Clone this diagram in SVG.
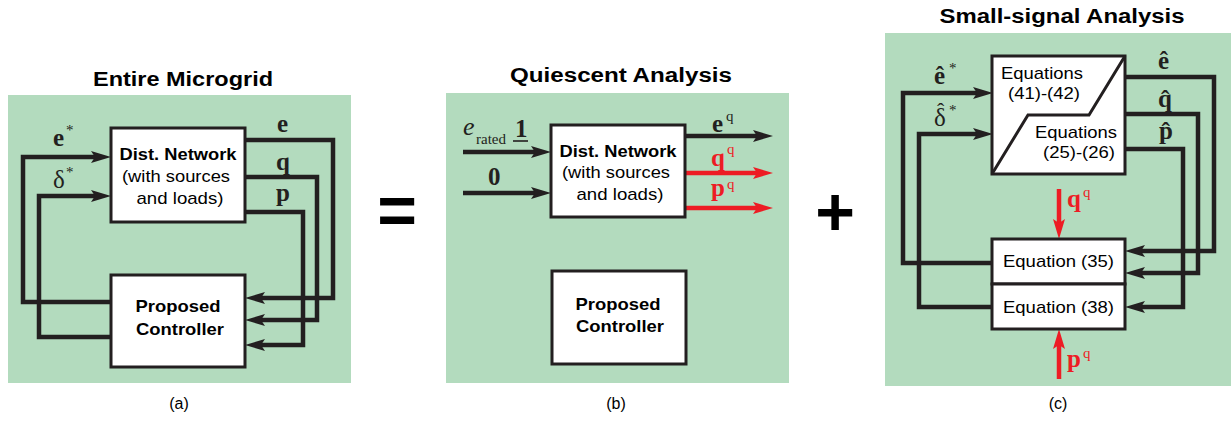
<svg xmlns="http://www.w3.org/2000/svg" width="1231" height="422" viewBox="0 0 1231 422">
<style>
.panel{fill:#b3dbbe}
.box{fill:#fff;stroke:#231f20;stroke-width:3}
.ln{fill:none;stroke:#231f20;stroke-width:4.5;stroke-linejoin:miter;stroke-linecap:butt}
.lr{fill:none;stroke:#ed1c24;stroke-width:4.5;stroke-linecap:butt}
.title{font-family:"Liberation Sans",Arial,sans-serif;font-weight:bold;font-size:20px;fill:#000;text-anchor:middle}
.lb{font-family:"Liberation Sans",Arial,sans-serif;font-weight:bold;font-size:17px;fill:#000;text-anchor:middle}
.lt{font-family:"Liberation Sans",Arial,sans-serif;font-size:17px;fill:#000;text-anchor:middle}
.eq{font-family:"Liberation Sans",Arial,sans-serif;font-size:17px;fill:#000}
.cap{font-family:"Liberation Sans",Arial,sans-serif;font-size:16px;fill:#000;text-anchor:middle}
.big{font-family:"Liberation Sans",Arial,sans-serif;font-weight:bold;font-size:68px;fill:#000;text-anchor:middle}
.mb{font-family:"Liberation Serif","Times New Roman",serif;font-weight:bold;font-size:25px;fill:#231f20}
.mr{font-family:"Liberation Serif","Times New Roman",serif;font-size:25px;fill:#231f20}
.mi{font-family:"Liberation Serif","Times New Roman",serif;font-style:italic;font-size:26px;fill:#231f20}
.sub{font-family:"Liberation Serif","Times New Roman",serif;font-size:15px;fill:#231f20}
.hatt{font-size:22px}
.red{fill:#ed1c24}
</style>
<defs>
<marker id="ah" markerUnits="userSpaceOnUse" markerWidth="20" markerHeight="12" viewBox="0 0 20 12" refX="4" refY="6" orient="auto">
<path d="M0,0 L20,6 L0,12 L4,6 Z" fill="#231f20"/>
</marker>
<marker id="ahr" markerUnits="userSpaceOnUse" markerWidth="20" markerHeight="12" viewBox="0 0 20 12" refX="4" refY="6" orient="auto">
<path d="M0,0 L20,6 L0,12 L4,6 Z" fill="#ed1c24"/>
</marker>
</defs>

<!-- Panel backgrounds -->
<rect class="panel" x="8" y="95" width="343" height="288"/>
<rect class="panel" x="446" y="93" width="343" height="290"/>
<rect class="panel" x="885" y="33" width="346" height="353"/>

<!-- Titles -->
<text class="title" x="183" y="86" textLength="180" lengthAdjust="spacingAndGlyphs">Entire Microgrid</text>
<text class="title" x="621" y="82" textLength="222" lengthAdjust="spacingAndGlyphs">Quiescent Analysis</text>
<text class="title" x="1062" y="23" textLength="245" lengthAdjust="spacingAndGlyphs">Small-signal Analysis</text>

<!-- Connectors -->
<g id="connectors">
<!-- (a) -->
<path class="ln" d="M245,140 H333 V298 H261" marker-end="url(#ah)"/>
<path class="ln" d="M245,177 H317 V320 H261" marker-end="url(#ah)"/>
<path class="ln" d="M245,212 H303 V345 H261" marker-end="url(#ah)"/>
<path class="ln" d="M111,302 H23 V157 H95" marker-end="url(#ah)"/>
<path class="ln" d="M111,337 H39 V196 H95" marker-end="url(#ah)"/>
<!-- (b) -->
<path class="ln" d="M463,152 H535" marker-end="url(#ah)"/>
<path class="ln" d="M463,193 H535" marker-end="url(#ah)"/>
<path class="ln" d="M685,136 H757" marker-end="url(#ah)"/>
<path class="lr" d="M685,173 H757" marker-end="url(#ahr)"/>
<path class="lr" d="M685,208 H757" marker-end="url(#ahr)"/>
<!-- (c) -->
<path class="ln" d="M1125,77 H1214 V251 H1141" marker-end="url(#ah)"/>
<path class="ln" d="M1125,114 H1198 V273 H1141" marker-end="url(#ah)"/>
<path class="ln" d="M1125,149 H1183 V307 H1141" marker-end="url(#ah)"/>
<path class="ln" d="M992,263 H903 V93 H977" marker-end="url(#ah)"/>
<path class="ln" d="M992,307 H919 V134 H977" marker-end="url(#ah)"/>
<path class="lr" d="M1059,189 V223" marker-end="url(#ahr)"/>
<path class="lr" d="M1059,379 V345" marker-end="url(#ahr)"/>
</g>

<!-- (a) nodes -->
<g id="a-dist">
<rect class="box" x="111" y="128" width="134" height="94"/>
<text class="lb" x="178" y="160" textLength="117" lengthAdjust="spacingAndGlyphs">Dist. Network</text>
<text class="lt" x="176" y="182" textLength="108" lengthAdjust="spacingAndGlyphs">(with sources</text>
<text class="lt" x="180" y="204" textLength="87" lengthAdjust="spacingAndGlyphs">and loads)</text>
</g>
<g id="a-ctrl">
<rect class="box" x="111" y="275" width="134" height="92"/>
<text class="lb" x="178" y="312" textLength="85" lengthAdjust="spacingAndGlyphs">Proposed</text>
<text class="lb" x="180" y="335" textLength="88" lengthAdjust="spacingAndGlyphs">Controller</text>
</g>

<!-- (a) labels -->
<g id="a-labels">
<text class="mb" x="53" y="146">e</text><text class="sub" x="66" y="135">*</text>
<text class="mr" x="53" y="188">δ</text><text class="sub" x="66" y="177">*</text>
<text class="mb" x="277" y="132">e</text>
<text class="mb" x="276" y="170">q</text>
<text class="mb" x="276" y="201">p</text>
</g>

<!-- (b) nodes -->
<g id="b-dist">
<rect class="box" x="551" y="125" width="134" height="92"/>
<text class="lb" x="618" y="157" textLength="117" lengthAdjust="spacingAndGlyphs">Dist. Network</text>
<text class="lt" x="616" y="178" textLength="108" lengthAdjust="spacingAndGlyphs">(with sources</text>
<text class="lt" x="620" y="200" textLength="87" lengthAdjust="spacingAndGlyphs">and loads)</text>
</g>
<g id="b-ctrl">
<rect class="box" x="552" y="271" width="134" height="93"/>
<text class="lb" x="618" y="310" textLength="85" lengthAdjust="spacingAndGlyphs">Proposed</text>
<text class="lb" x="620" y="332" textLength="88" lengthAdjust="spacingAndGlyphs">Controller</text>
</g>

<!-- (b) labels -->
<g id="b-labels">
<text class="mi" x="463" y="135">e</text>
<text class="sub" x="476" y="144">rated</text>
<text class="mb" x="515" y="137">1</text>
<line x1="513" y1="141" x2="528" y2="141" stroke="#231f20" stroke-width="1.6"/>
<text class="mb" x="488" y="185">0</text>
<text class="mb" x="712" y="132">e</text><text class="sub" x="726" y="121">q</text>
<text class="mb red" x="711" y="166">q</text><text class="sub red" x="727" y="154">q</text>
<text class="mb red" x="711" y="196">p</text><text class="sub red" x="727" y="189">q</text>
</g>

<!-- (c) nodes -->
<g id="c-eqs">
<rect class="box" x="992" y="56" width="133" height="118"/>
<polyline points="1125,56 1089,115 1028,115 992,174" fill="none" stroke="#231f20" stroke-width="3"/>
<text class="eq" x="1001" y="79" textLength="82" lengthAdjust="spacingAndGlyphs">Equations</text>
<text class="eq" x="1008" y="99" textLength="72" lengthAdjust="spacingAndGlyphs">(41)-(42)</text>
<text class="eq" x="1035" y="138" textLength="82" lengthAdjust="spacingAndGlyphs">Equations</text>
<text class="eq" x="1043" y="158" textLength="72" lengthAdjust="spacingAndGlyphs">(25)-(26)</text>
</g>
<g id="c-eq35">
<rect class="box" x="992" y="239" width="133" height="45"/>
<text class="eq" x="1003" y="267" textLength="111" lengthAdjust="spacingAndGlyphs">Equation (35)</text>
</g>
<g id="c-eq38">
<rect class="box" x="992" y="284" width="133" height="45"/>
<text class="eq" x="1003" y="313" textLength="111" lengthAdjust="spacingAndGlyphs">Equation (38)</text>
</g>

<!-- (c) labels -->
<g id="c-labels">
<text class="mb" x="934" y="84">ê</text><text class="sub" x="949" y="73">*</text>
<text class="mr" x="934" y="126">δ<tspan class="hatt" x="937" y="118">ˆ</tspan><tspan class="sub" x="949" y="115">*</tspan></text>
<text class="mb" x="1158" y="69">ê</text>
<text class="mb" x="1158" y="107">q̂</text>
<text class="mb" x="1159" y="139">p̂</text>
<text class="mb red" x="1067" y="207">q</text><text class="sub red" x="1083" y="197">q</text>
<text class="mb red" x="1067" y="367">p</text><text class="sub red" x="1083" y="358">q</text>
</g>

<!-- Operators -->
<text class="big" x="397" y="234">=</text>
<text class="big" x="835" y="235">+</text>

<!-- Captions -->
<text class="cap" x="179" y="409">(a)</text>
<text class="cap" x="616" y="409">(b)</text>
<text class="cap" x="1058" y="409">(c)</text>
</svg>
